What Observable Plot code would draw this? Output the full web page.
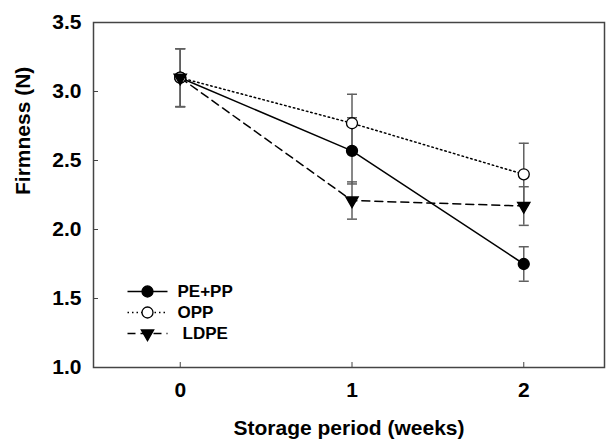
<!DOCTYPE html>
<html>
<head>
<meta charset="utf-8">
<script src="https://cdn.jsdelivr.net/npm/d3@7"></script>
<script src="https://cdn.jsdelivr.net/npm/@observablehq/plot@0.6"></script>
<style>
  html, body { margin: 0; padding: 0; background: #fff; }
  #chart { width: 610px; height: 441px; }
</style>
</head>
<body>
<div id="chart"></div>
<script>
// ---- data ----
const weeks = [0, 1, 2];
const seriesNames = ["PE+PP", "OPP", "LDPE"];
const pepp = [3.10, 2.57, 1.75];
const peppErr = [0.21, 0.24, 0.125];
const opp = [3.10, 2.77, 2.40];
const oppErr = [0.21, 0.21, 0.225];
const ldpe = [3.10, 2.21, 2.17];
const ldpeErr = [0.21, 0.135, 0.14];
const xTicks = [0, 1, 2];
const yTicks = [1.0, 1.5, 2.0, 2.5, 3.0, 3.5];
const xLabel = "Storage period (weeks)";
const yLabel = "Firmness (N)";

const valuesBySeries = {"PE+PP": [pepp, peppErr], "OPP": [opp, oppErr], "LDPE": [ldpe, ldpeErr]};
const rows = seriesNames.flatMap(s => weeks.map((w, i) => ({
  series: s, week: w, value: valuesBySeries[s][0][i], err: valuesBySeries[s][1][i]
})));
const bySeries = s => rows.filter(d => d.series === s);

const styles = {
  "PE+PP": {dash: null, symbol: "circle", fill: "black", r: 5.5, rotate: 0},
  "OPP": {dash: "1.5,3", symbol: "circle", fill: "white", r: 5.5, rotate: 0},
  "LDPE": {dash: "8,5", symbol: "triangle", fill: "black", r: 4.6, rotate: 180}
};

const capSymbol = {draw(ctx) { ctx.moveTo(-5, 0); ctx.lineTo(5, 0); }};
const legendLineSymbol = {draw(ctx) { ctx.moveTo(-20, 0); ctx.lineTo(20, 0); }};

const font = "'Liberation Sans', Arial, Helvetica, sans-serif";
const errColor = "#606060";

const marks = [
  Plot.frame({stroke: "#444", strokeWidth: 1.5}),
  // y axis: labels + inward ticks
  Plot.axisY({ticks: yTicks, tickFormat: d3.format(".1f"), tickSize: 0, tickPadding: 12, label: null, fontSize: 21, fontWeight: "bold"}),
  Plot.axisY({ticks: yTicks, text: null, tickSize: 5, dx: 5, label: null, stroke: "#444"}),
  // x axis: labels + inward ticks
  Plot.axisX({ticks: xTicks, tickFormat: d3.format("d"), tickSize: 0, tickPadding: 15, label: null, fontSize: 21, fontWeight: "bold"}),
  Plot.axisX({ticks: xTicks, text: null, tickSize: 5, dy: -5, label: null, stroke: "#444"}),
  // error bars
  Plot.ruleX(rows, {x: "week", y1: d => d.value - d.err, y2: d => d.value + d.err, stroke: errColor, strokeWidth: 1.5}),
  Plot.dot(rows, {x: "week", y: d => d.value + d.err, symbol: capSymbol, stroke: errColor, strokeWidth: 1.5, fill: "none"}),
  Plot.dot(rows, {x: "week", y: d => d.value - d.err, symbol: capSymbol, stroke: errColor, strokeWidth: 1.5, fill: "none"}),
];

// lines and markers
for (const s of seriesNames) {
  const st = styles[s];
  marks.push(Plot.line(bySeries(s), {x: "week", y: "value", stroke: "black", strokeWidth: 1.5, strokeDasharray: st.dash}));
}
for (const s of seriesNames) {
  const st = styles[s];
  marks.push(Plot.dot(bySeries(s), {x: "week", y: "value", symbol: st.symbol, r: st.r, fill: st.fill, stroke: "black", strokeWidth: 1.3, rotate: st.rotate}));
}

// legend (inside frame, lower-left)
const legendDy = [-76, -55, -34];
const legendTextDx = [84, 84, 89];
seriesNames.forEach((s, i) => {
  const st = styles[s];
  marks.push(Plot.dot([s], {frameAnchor: "bottom-left", dx: 54, dy: legendDy[i], symbol: legendLineSymbol, stroke: "black", strokeWidth: 1.5, strokeDasharray: st.dash, fill: "none"}));
  marks.push(Plot.dot([s], {frameAnchor: "bottom-left", dx: 54, dy: legendDy[i], symbol: st.symbol, r: st.r, fill: st.fill, stroke: "black", strokeWidth: 1.3, rotate: st.rotate}));
  marks.push(Plot.text([s], {frameAnchor: "bottom-left", dx: legendTextDx[i], dy: legendDy[i], text: d => d, textAnchor: "start", lineAnchor: "middle", fontSize: 17, fontWeight: "bold", fill: "black"}));
});

// axis titles
marks.push(Plot.text([xLabel], {frameAnchor: "bottom", dy: 61, text: d => d, lineAnchor: "middle", fontSize: 21, fontWeight: "bold", fill: "black"}));
marks.push(Plot.text([yLabel], {frameAnchor: "left", dx: -70, text: d => d, rotate: -90, lineAnchor: "middle", fontSize: 21, fontWeight: "bold", fill: "black"}));

const chart = Plot.plot({
  width: 610,
  height: 441,
  marginLeft: 93,
  marginRight: 6,
  marginTop: 22,
  marginBottom: 74,
  x: {domain: [-0.505, 2.47]},
  y: {domain: [1.0, 3.5]},
  style: {fontFamily: font, color: "black", background: "white"},
  marks
});
document.getElementById("chart").appendChild(chart);
</script>
</body>
</html>
